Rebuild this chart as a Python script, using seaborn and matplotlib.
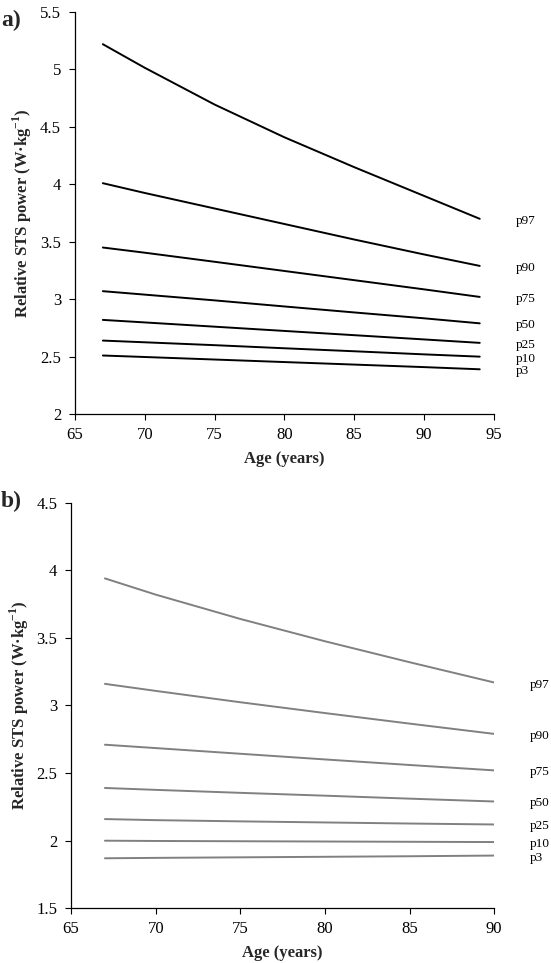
"""
Relative STS power percentile curves by age (two panels).
"""

import numpy as np
import pandas as pd
import matplotlib.pyplot as plt
import seaborn as sns

# Data ----------------------------
percentiles = ["p3", "p10", "p25", "p50", "p75", "p90", "p97"]

# panel a) ages 67-94
ages_a = [67, 70, 75, 80, 85, 90, 94]
a_p3 = [2.51, 2.497, 2.475, 2.453, 2.431, 2.409, 2.39]
a_p10 = [2.64, 2.625, 2.60, 2.573, 2.547, 2.52, 2.50]
a_p25 = [2.82, 2.798, 2.761, 2.724, 2.687, 2.65, 2.62]
a_p50 = [3.07, 3.04, 2.99, 2.937, 2.885, 2.834, 2.79]
a_p75 = [3.45, 3.405, 3.326, 3.246, 3.166, 3.086, 3.02]
a_p90 = [4.01, 3.925, 3.79, 3.655, 3.52, 3.39, 3.29]
a_p97 = [5.22, 5.015, 4.695, 4.41, 4.15, 3.90, 3.70]

# panel b) ages 67-90
ages_b = [67, 70, 75, 80, 85, 90]
b_p3 = [1.87, 1.873, 1.877, 1.881, 1.885, 1.89]
b_p10 = [2.00, 1.998, 1.996, 1.994, 1.992, 1.99]
b_p25 = [2.16, 2.152, 2.143, 2.135, 2.127, 2.12]
b_p50 = [2.39, 2.376, 2.354, 2.333, 2.311, 2.29]
b_p75 = [2.71, 2.685, 2.643, 2.601, 2.56, 2.52]
b_p90 = [3.16, 3.108, 3.024, 2.944, 2.866, 2.79]
b_p97 = [3.94, 3.82, 3.64, 3.475, 3.32, 3.17]

series_a = [a_p3, a_p10, a_p25, a_p50, a_p75, a_p90, a_p97]
series_b = [b_p3, b_p10, b_p25, b_p50, b_p75, b_p90, b_p97]


def to_long(ages, series):
    frames = []
    for name, vals in zip(percentiles, series):
        frames.append(pd.DataFrame({"age": ages, "power": vals, "pct": name}))
    return pd.concat(frames, ignore_index=True)


df_a = to_long(ages_a, series_a)
df_b = to_long(ages_b, series_b)

# Style ----------------------------
sns.set_style("ticks")
plt.rcParams["font.family"] = ["Liberation Serif", "DejaVu Serif"]
plt.rcParams["mathtext.fontset"] = "custom"
plt.rcParams["mathtext.rm"] = "Liberation Serif"
plt.rcParams["mathtext.bf"] = "Liberation Serif:bold"

ylabel = r"Relative STS power (W·kg$^{\mathbf{-1}}$)"

fig = plt.figure(figsize=(5.51, 9.63), dpi=100)
ax_a = fig.add_axes([0.136, 0.570, 0.760, 0.4175])
ax_b = fig.add_axes([0.129, 0.0568, 0.768, 0.4212])


def draw_panel(ax, df, color, xlim, ylim, yticks, xticks):
    sns.lineplot(data=df, x="age", y="power", hue="pct", palette=[color] * len(percentiles),
                 linewidth=1.4, legend=False, ax=ax)
    ax.set_xlim(*xlim)
    ax.set_ylim(*ylim)
    ax.set_xticks(xticks)
    ax.set_yticks(yticks)
    ax.set_yticklabels([f"{t:g}" for t in yticks])
    ax.set_xticklabels([f"{t:g}" for t in xticks])
    ax.tick_params(axis="both", labelsize=12, length=4, width=0.8, direction="out", colors="black")
    ax.tick_params(axis="x", pad=5)
    ax.tick_params(axis="y", pad=6)
    for s in ["left", "bottom"]:
        ax.spines[s].set_linewidth(0.9)
        ax.spines[s].set_color("black")
    sns.despine(ax=ax)
    ax.set_xlabel("Age (years)", fontsize=12, fontweight="bold", labelpad=6)
    ax.set_ylabel(ylabel, fontsize=12, fontweight="bold", labelpad=4)
    # percentile labels at line ends
    for name in percentiles:
        sub = df[df.pct == name]
        ax.annotate(name, xy=(sub.age.iloc[-1], sub.power.iloc[-1]),
                    xytext=(36, -2), textcoords="offset pixels",
                    ha="left", va="center", fontsize=9.5, color="black",
                    annotation_clip=False)


draw_panel(ax_a, df_a, "black", (65, 95), (2, 5.5),
           [2, 2.5, 3, 3.5, 4, 4.5, 5, 5.5], [65, 70, 75, 80, 85, 90, 95])
draw_panel(ax_b, df_b, "#808080", (65, 90), (1.5, 4.5),
           [1.5, 2, 2.5, 3, 3.5, 4, 4.5], [65, 70, 75, 80, 85, 90])

fig.text(0.002, 0.979, "a)", fontsize=17, fontweight="bold", ha="left", va="center")
fig.text(0.002, 0.479, "b)", fontsize=17, fontweight="bold", ha="left", va="center")

fig.savefig("out.png", dpi=100)
